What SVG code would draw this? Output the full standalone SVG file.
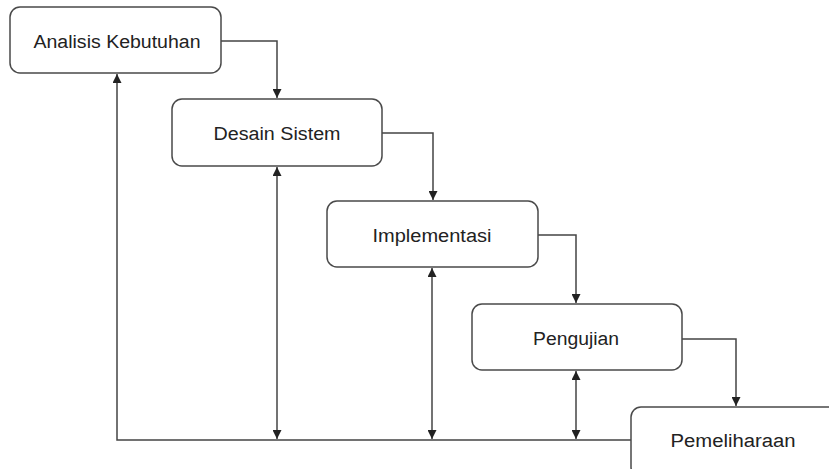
<svg xmlns="http://www.w3.org/2000/svg" width="829" height="469" viewBox="0 0 829 469">
<style>
.box{fill:#fff;stroke:#4a4a4a;stroke-width:1.5}
.lbl{font-family:"Liberation Sans",Arial,sans-serif;font-size:18px;fill:#222;text-anchor:middle}
.c{fill:none;stroke:#444;stroke-width:1.5}
</style>
<defs>
<marker id="ah" viewBox="0 0 10 10" refX="10" refY="5" markerWidth="9" markerHeight="9" markerUnits="userSpaceOnUse" orient="auto-start-reverse">
<path d="M0,0 L10,5 L0,10 Z" fill="#222"/>
</marker>
</defs>
<rect width="829" height="469" fill="#fff"/>
<g id="connectors">
<path class="c" d="M221,41 H277 V98" marker-end="url(#ah)"/>
<path class="c" d="M382,133 H433 V200" marker-end="url(#ah)"/>
<path class="c" d="M538,235 H576 V303" marker-end="url(#ah)"/>
<path class="c" d="M682,339 H736 V406" marker-end="url(#ah)"/>
<path class="c" d="M631,440 H117 V74" marker-end="url(#ah)"/>
<path class="c" d="M277,167 V439" marker-start="url(#ah)" marker-end="url(#ah)"/>
<path class="c" d="M432,268 V439" marker-start="url(#ah)" marker-end="url(#ah)"/>
<path class="c" d="M576,371 V439" marker-start="url(#ah)" marker-end="url(#ah)"/>
</g>
<g id="analisis"><rect class="box" x="10" y="7" width="211" height="66" rx="10"/><text class="lbl" x="117" y="48" textLength="167" lengthAdjust="spacingAndGlyphs">Analisis Kebutuhan</text></g>
<g id="desain"><rect class="box" x="172" y="99" width="210" height="67" rx="10"/><text class="lbl" x="277" y="140" textLength="127" lengthAdjust="spacingAndGlyphs">Desain Sistem</text></g>
<g id="implementasi"><rect class="box" x="327" y="201" width="211" height="66" rx="10"/><text class="lbl" x="432" y="242" textLength="119" lengthAdjust="spacingAndGlyphs">Implementasi</text></g>
<g id="pengujian"><rect class="box" x="472" y="304" width="210" height="66" rx="10"/><text class="lbl" x="576" y="345" textLength="86" lengthAdjust="spacingAndGlyphs">Pengujian</text></g>
<g id="pemeliharaan"><rect class="box" x="631" y="407" width="210" height="70" rx="10"/><text class="lbl" x="733" y="447" textLength="125" lengthAdjust="spacingAndGlyphs">Pemeliharaan</text></g>
</svg>
